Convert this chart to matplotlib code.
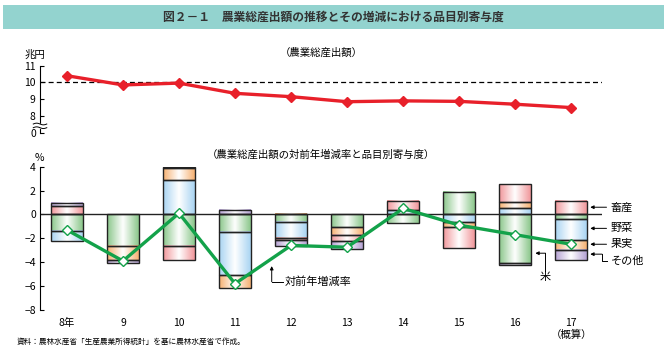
import matplotlib
matplotlib.use("Agg")
import matplotlib.pyplot as plt
import numpy as np
from matplotlib.colors import LinearSegmentedColormap
from matplotlib.patches import Rectangle

plt.rcParams["font.family"] = ["Noto Sans CJK JP", "DejaVu Sans"]

# ---- data ----
years = np.arange(8, 18)
year_labels = ["8年", "9", "10", "11", "12", "13", "14", "15", "16", "17\n（概算）"]

output_total = [10.40, 9.85, 9.96, 9.35, 9.15, 8.85, 8.90, 8.87, 8.70, 8.50]  # 兆円

growth_rate = [-1.3, -3.9, 0.1, -5.8, -2.6, -2.75, 0.5, -0.9, -1.7, -2.5]  # %

rice = [-1.36, -2.61, -2.61, -1.47, -0.60, -1.06, -0.69, 1.89, -4.06, -0.36]
vegetables = [-0.89, 0.00, 2.89, -3.61, -1.35, 0.00, 0.33, -0.64, 0.50, -1.75]
fruit = [0.00, -1.22, 1.00, -1.06, 0.06, -0.63, 0.00, -0.39, 0.56, -0.83]
livestock = [0.69, 0.00, -1.22, 0.00, -0.17, -0.56, 0.78, -1.75, 1.50, 1.14]
others = [0.28, -0.25, 0.07, 0.39, -0.50, -0.61, 0.00, 0.00, -0.14, -0.84]

components = [
    ("米", rice, "#8bc78b"),
    ("野菜", vegetables, "#a9d4f2"),
    ("果実", fruit, "#f6b172"),
    ("畜産", livestock, "#f1979b"),
    ("その他", others, "#b5a2d3"),
]

fig = plt.figure(figsize=(6.67, 3.53), dpi=100)

# title band
fig.patches.append(Rectangle((0.005, 0.918), 0.99, 0.068, transform=fig.transFigure,
                             facecolor="#93d3cf", edgecolor="none", zorder=0))
fig.text(0.5, 0.951, "図２－１　農業総産出額の推移とその増減における品目別寄与度",
         ha="center", va="center", fontsize=8.5, fontweight="bold", color="#333333")

XL = (7.52, 17.55)

# ---- top panel: total output ----
ax1 = fig.add_axes([0.06, 0.624, 0.8426, 0.190])
ax1.plot(years, output_total, color="#e8202a", lw=2.4, marker="D", ms=5,
         markeredgecolor="#e8202a", zorder=3)
ax1.axhline(10, color="black", lw=0.9, ls=(0, (4, 2.5)), zorder=1)
ax1.set_xlim(*XL)
ax1.set_ylim(7, 11)
ax1.set_yticks([7, 8, 9, 10, 11])
ax1.set_yticklabels(["0", "8", "9", "10", "11"])
ax1.set_xticks([])
for s in ("top", "right", "bottom"):
    ax1.spines[s].set_visible(False)
ax1.tick_params(axis="y", direction="in", length=3, width=0.8, labelsize=7.5, pad=3)
# broken-axis squiggle
t = np.linspace(-0.012, 0.012, 30)
wave = 0.05 * np.sin((t + 0.012) / 0.024 * 2 * np.pi)
ax1.fill_between(t, 7.30 + wave, 7.52 + wave, transform=ax1.get_yaxis_transform(),
                 color="white", clip_on=False, zorder=4)
for yc in (7.30, 7.52):
    ax1.plot(t, yc + wave, color="black", lw=0.7,
             transform=ax1.get_yaxis_transform(), clip_on=False, zorder=5)
ax1.text(0.5, 1.12, "（農業総産出額）", transform=ax1.transAxes, ha="center",
         va="bottom", fontsize=7.5)
ax1.text(-0.01, 1.08, "兆円", transform=ax1.transAxes, ha="center", va="bottom", fontsize=7.5)

# ---- bottom panel: contributions ----
ax2 = fig.add_axes([0.06, 0.122, 0.8426, 0.406])
width = 0.57
grad = np.linspace(0, 1, 64).reshape(1, -1)
pos_base = np.zeros(len(years))
neg_base = np.zeros(len(years))
for name, vals, col in components:
    cmap = LinearSegmentedColormap.from_list(name, [col, "white", col])
    for i, (x, v) in enumerate(zip(years, vals)):
        if v == 0:
            continue
        if v > 0:
            b, tp = pos_base[i], pos_base[i] + v
            pos_base[i] = tp
        else:
            b, tp = neg_base[i] + v, neg_base[i]
            neg_base[i] = b
        ax2.imshow(grad, cmap=cmap, aspect="auto", interpolation="bicubic",
                   extent=(x - width / 2, x + width / 2, b, tp), zorder=2)
        ax2.add_patch(Rectangle((x - width / 2, b), width, tp - b, fill=False,
                                edgecolor="#222222", lw=1.0, zorder=3))
ax2.axhline(0, color="#222222", lw=1.0, zorder=2.5)
ax2.plot(years, growth_rate, color="#13a24a", lw=2.4, marker="D", ms=5.5,
         markerfacecolor="white", markeredgecolor="#13a24a", markeredgewidth=1.0, zorder=4)
ax2.set_xlim(*XL)
ax2.set_ylim(-8, 4)
ax2.set_yticks(range(-8, 5, 2))
ax2.set_xticks(years)
ax2.set_xticklabels(year_labels, fontsize=7.5, linespacing=1.2)
for s in ("top", "right", "bottom"):
    ax2.spines[s].set_visible(False)
ax2.tick_params(axis="y", direction="in", length=3, width=0.8, labelsize=7.5, pad=3)
ax2.tick_params(axis="x", length=0, pad=6)
ax2.text(0.5, 1.045, "（農業総産出額の対前年増減率と品目別寄与度）", transform=ax2.transAxes,
         ha="center", va="bottom", fontsize=7.5)
ax2.text(-0.002, 1.025, "%", transform=ax2.transAxes, ha="center", va="bottom", fontsize=7.5)

arrow = dict(arrowstyle="-|>", color="black", lw=0.7, mutation_scale=5, shrinkA=0, shrinkB=0)
# right-side labels
for name, y in (("畜産", 0.6), ("野菜", -1.17), ("果実", -2.5)):
    ax2.annotate("", xy=(17.34, y), xytext=(17.63, y), arrowprops=arrow, annotation_clip=False)
    ax2.text(17.70, y, name, ha="left", va="center", fontsize=8, clip_on=False)
ax2.plot([17.63, 17.55, 17.55], [-3.9, -3.9, -3.33], color="black", lw=0.7, clip_on=False)
ax2.annotate("", xy=(17.34, -3.33), xytext=(17.55, -3.33), arrowprops=arrow, annotation_clip=False)
ax2.text(17.70, -3.9, "その他", ha="left", va="center", fontsize=8, clip_on=False)
# 米
ax2.plot([16.54, 16.54], [-4.75, -3.25], color="black", lw=0.7)
ax2.annotate("", xy=(16.36, -3.25), xytext=(16.54, -3.25), arrowprops=arrow)
ax2.text(16.54, -5.25, "米", ha="center", va="center", fontsize=8)
# 対前年増減率
ax2.plot([11.86, 11.655], [-5.64, -5.64], color="black", lw=0.7)
ax2.annotate("", xy=(11.655, -4.33), xytext=(11.655, -5.64), arrowprops=arrow)
ax2.text(11.89, -5.64, "対前年増減率", ha="left", va="center", fontsize=8)

fig.text(0.025, 0.031, "資料：農林水産省「生産農業所得統計」を基に農林水産省で作成。",
         ha="left", va="center", fontsize=5.5)

fig.savefig("out.png", dpi=100)
